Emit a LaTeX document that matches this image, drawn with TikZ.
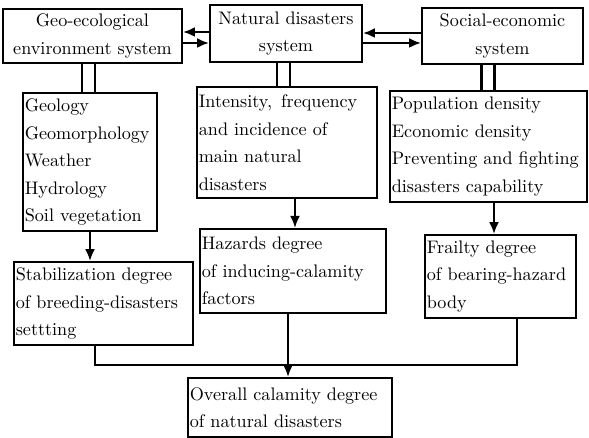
\documentclass[tikz,border=0pt]{standalone}
\usetikzlibrary{arrows.meta}

\begin{document}
\begin{tikzpicture}
  [x=0.54pt,y=-0.54pt,
   box/.style={draw,rectangle,line width=1pt,inner xsep=1pt,inner ysep=0pt,
     font=\fontsize{9.8}{14.85}\selectfont},
   sysbox/.style={box,align=center},
   listbox/.style={box,align=left},
   link/.style={double,double distance=5.6pt,line width=1.4pt},
   arr/.style={line width=1.5pt,-{Latex[length=6.5pt,width=5.4pt]}},
   joinline/.style={line width=1.4pt}]
  \useasboundingbox (0,0) rectangle (589,438);

  \node[sysbox,minimum width=96.66pt,minimum height=29.16pt] (geo) at (92.5,36) {Geo-ecological\\environment system};
  \node[sysbox,minimum width=82.08pt,minimum height=30.78pt] (nat) at (286,33.5) {Natural disasters\\system};
  \node[sysbox,minimum width=86.94pt,minimum height=30.24pt] (soc) at (502.5,36) {Social-economic\\system};

  \node[listbox,text width=70.4pt,minimum height=74.5pt] (geol) at (90,162) {Geology\\Geomorphology\\Weather\\Hydrology\\Soil vegetation};
  \node[listbox,text width=95.2pt,minimum height=59.9pt] (inte) at (287,142.5) {Intensity,\enspace frequency\\and incidence of\\main natural\\disasters};
  \node[listbox,text width=104.4pt,minimum height=59.9pt] (popu) at (488.5,146.5) {Population density\\Economic density\\Preventing and fighting\\disasters capability};

  \node[listbox,text width=94.7pt,minimum height=44.8pt] (stab) at (103.5,303.5) {Stabilization degree\\of breeding-disasters\\settting};
  \node[listbox,text width=98.4pt,minimum height=45.4pt] (haza) at (293,271) {Hazards degree\\of inducing-calamity\\factors};
  \node[listbox,text width=79.5pt,minimum height=44.8pt] (frai) at (500.5,276.5) {Frailty degree\\of bearing-hazard\\body};
  \node[listbox,text width=108.2pt,minimum height=31.9pt] (over) at (290,407.5) {Overall calamity degree\\of natural disasters};

  \coordinate (join) at (288,365);

  \draw[arr] ([yshift=0.81pt]nat.west) -- ([yshift=0.81pt]nat.west -| geo.east);
  \draw[arr] ([yshift=-3.78pt]geo.east) -- ([yshift=-3.78pt]geo.east -| nat.west);
  \draw[arr] ([yshift=1.62pt]soc.west) -- ([yshift=1.62pt]soc.west -| nat.east);
  \draw[arr] ([yshift=-5.13pt]nat.east) -- ([yshift=-5.13pt]nat.east -| soc.west);

  \draw[link] ([xshift=-2.16pt]geo.south) -- ([xshift=-2.16pt]geo.south |- geol.north);
  \draw[link] ([xshift=-1.35pt]nat.south) -- ([xshift=-1.35pt]nat.south |- inte.north);
  \draw[link] ([xshift=-7.83pt]soc.south) -- ([xshift=-7.83pt]soc.south |- popu.north);

  \draw[arr] (geol.south) -- (geol.south |- stab.north);
  \draw[arr] ([xshift=4.32pt]inte.south) -- ([xshift=4.32pt]inte.south |- haza.north);
  \draw[arr] ([xshift=2.97pt]popu.south) -- ([xshift=2.97pt]popu.south |- frai.north);

  \draw[joinline] ([xshift=-4.59pt]stab.south) |- (join) -| ([xshift=8.91pt]frai.south);
  \draw[arr] (haza.south -| join) -- (over.north -| join);
\end{tikzpicture}
\end{document}
